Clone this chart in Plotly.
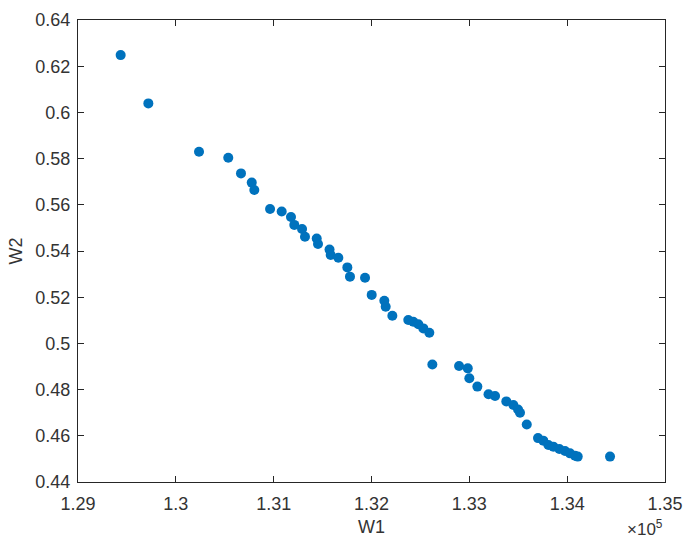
import plotly.graph_objects as go

w1 = [129436, 129719, 130237, 130536, 130666, 130776, 130802, 130963, 131082, 131177,
      131211, 131290, 131320, 131440, 131453, 131571, 131583, 131661, 131753, 131780,
      131934, 132002, 132131, 132145, 132213, 132376, 132427, 132479, 132530, 132591,
      132622, 132895, 132984, 133000, 133082, 133196, 133263, 133378, 133450, 133498,
      133518, 133587, 133702, 133756, 133808, 133859, 133920, 133978, 134029, 134080,
      134108, 134438]
w2 = [0.6248, 0.6039, 0.5830, 0.5804, 0.5736, 0.5696, 0.5664, 0.5582, 0.5571, 0.5547,
      0.5513, 0.5495, 0.5462, 0.5454, 0.5430, 0.5406, 0.5383, 0.5371, 0.5329, 0.5289,
      0.5284, 0.5210, 0.5185, 0.5159, 0.5120, 0.5101, 0.5094, 0.5083, 0.5065, 0.5046,
      0.4909, 0.4902, 0.4892, 0.4849, 0.4813, 0.4780, 0.4772, 0.4749, 0.4733, 0.4714,
      0.4700, 0.4649, 0.4590, 0.4579, 0.4560, 0.4553, 0.4543, 0.4534, 0.4524, 0.4514,
      0.4510, 0.4510]

x_tickvals = [129000, 130000, 131000, 132000, 133000, 134000, 135000]
x_ticktext = ["1.29", "1.3", "1.31", "1.32", "1.33", "1.34", "1.35"]
y_tickvals = [0.44, 0.46, 0.48, 0.50, 0.52, 0.54, 0.56, 0.58, 0.60, 0.62, 0.64]
y_ticktext = ["0.44", "0.46", "0.48", "0.5", "0.52", "0.54", "0.56", "0.58", "0.6", "0.62", "0.64"]

axcol = "#262626"
txtcol = "#333333"
font = dict(family="Liberation Sans, Arial, sans-serif", size=18, color=txtcol)

fig = go.Figure(go.Scatter(
    x=w1, y=w2, mode="markers",
    marker=dict(color="#0072BD", size=10, line=dict(width=0)),
    showlegend=False,
))

common = dict(showgrid=False, zeroline=False, showline=True, linecolor=axcol, linewidth=1,
              mirror="ticks", ticks="inside", ticklen=6, tickcolor=axcol, tickwidth=1,
              tickfont=font, automargin=False)

fig.update_xaxes(range=[129000, 135000], tickvals=x_tickvals, ticktext=x_ticktext,
                 ticklabelstandoff=5,
                 title=dict(text="W1", font=font, standoff=7), **common)
fig.update_yaxes(range=[0.44, 0.64], tickvals=y_tickvals, ticktext=y_ticktext,
                 ticklabelstandoff=3,
                 title=dict(text="W2", font=font, standoff=8), **common)

fig.add_annotation(text="×10<sup>5</sup>", xref="paper", yref="paper", x=1.0, y=0,
                   xanchor="right", yanchor="top", yshift=-33, showarrow=False,
                   font=dict(family="Liberation Sans, Arial, sans-serif", size=17, color=txtcol))

fig.update_layout(width=684, height=540, margin=dict(l=78, r=19, t=20, b=58),
                  plot_bgcolor="white", paper_bgcolor="white", font=font)

fig.write_html("out.html", config={"displayModeBar": False},
               post_script="document.body.style.margin='0px';")
